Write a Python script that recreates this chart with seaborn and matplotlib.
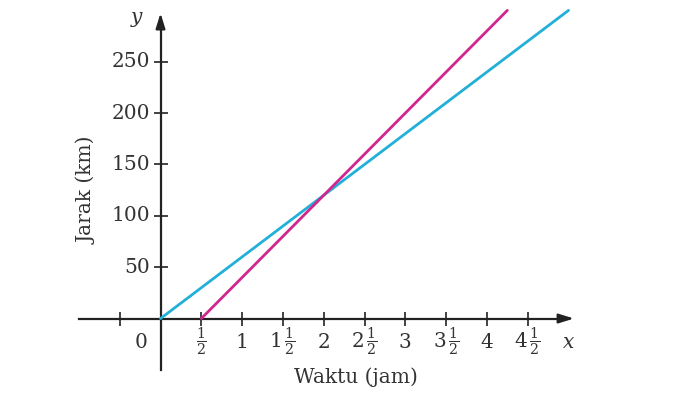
import matplotlib

matplotlib.use("Agg")
import matplotlib.pyplot as plt
import pandas as pd
import seaborn as sns

# data
waktu_biru = [0, 5]
jarak_biru = [0, 300]
waktu_magenta = [0.5, 4.25]
jarak_magenta = [0, 300]

x_ticks = [-0.5, 0.5, 1, 1.5, 2, 2.5, 3, 3.5, 4, 4.5]
x_labels = [
    None,
    r"$\frac{1}{2}$",
    "1",
    r"$1\,\frac{1}{2}$",
    "2",
    r"$2\,\frac{1}{2}$",
    "3",
    r"$3\,\frac{1}{2}$",
    "4",
    r"$4\,\frac{1}{2}$",
]
y_ticks = [50, 100, 150, 200, 250]

sns.set_style("white")
plt.rcParams["font.family"] = ["DejaVu Serif"]
plt.rcParams["mathtext.fontset"] = "dejavuserif"

df = pd.concat(
    [
        pd.DataFrame({"waktu": waktu_biru, "jarak": jarak_biru, "seri": "biru"}),
        pd.DataFrame({"waktu": waktu_magenta, "jarak": jarak_magenta, "seri": "magenta"}),
    ]
)

fig = plt.figure(figsize=(7, 3.93), dpi=100)
ax = fig.add_axes([0, 0, 1, 1])

sns.lineplot(
    data=df,
    x="waktu",
    y="jarak",
    hue="seri",
    palette={"biru": "#22b0d8", "magenta": "#d1268e"},
    linewidth=2.0,
    legend=False,
    ax=ax,
    zorder=3,
)

ax.set_xlim(-1.967, 6.611)
ax.set_ylim(-72.5, 310.1)

# axes through the origin
for s in ["top", "right"]:
    ax.spines[s].set_visible(False)
ax.spines["left"].set_position(("data", 0))
ax.spines["bottom"].set_position(("data", 0))
ax.spines["left"].set_bounds(-50, 290)
ax.spines["bottom"].set_bounds(-1.0, 4.98)
for s in ["left", "bottom"]:
    ax.spines[s].set_linewidth(1.6)
    ax.spines[s].set_color("#222222")
ax.annotate("", xy=(5.1, 0), xytext=(4.9, 0),
            arrowprops=dict(arrowstyle="-|>,head_length=0.9,head_width=0.28",
                            color="#222222", lw=1.6))
ax.annotate("", xy=(0, 300), xytext=(0, 280),
            arrowprops=dict(arrowstyle="-|>,head_length=0.9,head_width=0.28",
                            color="#222222", lw=1.6))

ax.set_xticks(x_ticks)
ax.set_yticks(y_ticks)
ax.set_xticklabels([])
ax.set_yticklabels([])
ax.tick_params(axis="both", bottom=True, left=True, direction="inout",
               length=10, width=1.2, color="#222222")
ax.set_xlabel("")
ax.set_ylabel("")

txt = dict(fontsize=14.5, color="#333333")
for xv, lab in zip(x_ticks, x_labels):
    if lab:
        ax.text(xv, -23, lab, ha="center", va="center", **txt)
for yv in y_ticks:
    ax.text(-0.13, yv, str(yv), ha="right", va="center", **txt)
ax.text(-0.24, -23, "0", ha="center", va="center", **txt)
ax.text(5.0, -23, "x", ha="center", va="center", style="italic", **txt)
ax.text(-0.3, 293, "y", ha="center", va="center", style="italic", **txt)
ax.text(2.4, -57, "Waktu (jam)", ha="center", va="center", **txt)
ax.text(-0.9, 125, "Jarak (km)", ha="center", va="center", rotation=90, **txt)

fig.savefig("out.png", dpi=100)
plt.close(fig)
